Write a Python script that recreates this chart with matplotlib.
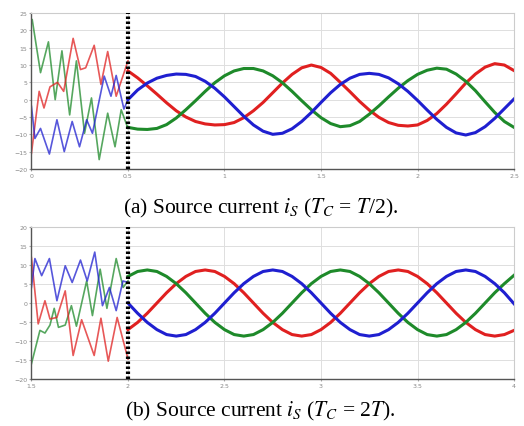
import numpy as np
import matplotlib
matplotlib.use("Agg")
import matplotlib.pyplot as plt

plt.rcParams["mathtext.fontset"] = "stix"

# ---- panel (a): T_C = T/2 ----
# transient part (before compensation switches on), read peak by peak
a_red_t = [0.0, 0.040, 0.065, 0.096, 0.135, 0.167, 0.216, 0.254, 0.281, 0.325, 0.360, 0.395, 0.439, 0.5]
a_red_v = [-15.5, 2.4, -2.4, 3.7, 5.0, 2.4, 17.7, 8.7, 9.2, 15.7, 4.4, 13.9, 1.0, 11.2]
a_grn_t = [0.004, 0.047, 0.088, 0.123, 0.158, 0.198, 0.233, 0.275, 0.311, 0.351, 0.395, 0.433, 0.465, 0.5]
a_grn_v = [23.1, 7.8, 16.7, 0.0, 14.1, -4.4, 11.2, -9.7, 0.5, -17.3, -3.9, -13.6, -2.9, -8.3]
a_blu_t = [0.0, 0.018, 0.047, 0.093, 0.132, 0.170, 0.211, 0.249, 0.286, 0.316, 0.377, 0.412, 0.439, 0.479, 0.5]
a_blu_v = [-1.9, -11.2, -8.3, -15.7, -5.8, -15.0, -6.3, -13.6, -5.8, -9.7, 6.8, 1.0, 7.0, -2.7, 0.0]

# steady part, sampled every 0.05 from 0.5 to 2.5
a_ss_t = [0.50, 0.55, 0.60, 0.65, 0.70, 0.75, 0.80, 0.85, 0.90, 0.95,
          1.00, 1.05, 1.10, 1.15, 1.20, 1.25, 1.30, 1.35, 1.40, 1.45,
          1.50, 1.55, 1.60, 1.65, 1.70, 1.75, 1.80, 1.85, 1.90, 1.95,
          2.00, 2.05, 2.10, 2.15, 2.20, 2.25, 2.30, 2.35, 2.40, 2.45, 2.50]
a_ss_red = [8.3, 6.3, 4.0, 1.6, -0.9, -3.2, -5.0, -6.3, -7.0, -7.3,
            -7.2, -6.6, -5.2, -3.2, -0.8, 2.0, 4.8, 7.3, 9.2, 10.0,
            9.3, 7.6, 5.0, 2.3, -0.5, -3.0, -5.1, -6.6, -7.4, -7.6,
            -7.3, -6.0, -4.0, -1.3, 1.7, 4.8, 7.4, 9.4, 10.4, 10.0, 8.4]
a_ss_grn = [-8.0, -8.5, -8.6, -8.3, -7.2, -5.3, -2.9, -0.3, 2.4, 4.9,
            6.9, 8.3, 9.0, 9.0, 8.3, 6.9, 4.9, 2.4, -0.3, -2.9,
            -5.2, -6.9, -7.8, -7.5, -6.3, -4.2, -1.8, 0.8, 3.3, 5.5,
            7.3, 8.5, 9.1, 8.8, 7.4, 5.3, 2.6, -0.6, -3.7, -6.3, -8.0]
a_ss_blu = [0.0, 2.8, 4.8, 6.2, 7.0, 7.4, 7.3, 6.7, 5.3, 3.3,
            0.8, -2.0, -4.8, -7.3, -9.1, -10.0, -9.7, -8.4, -6.3, -3.7,
            -0.8, 2.0, 4.4, 6.2, 7.3, 7.6, 7.3, 6.3, 4.6, 2.4,
            -0.2, -3.0, -5.7, -8.0, -9.6, -10.2, -9.5, -7.8, -5.4, -2.6, 0.2]

# ---- panel (b): T_C = 2T ----
b_red_t = [1.5, 1.535, 1.570, 1.596, 1.632, 1.675, 1.716, 1.760, 1.825, 1.860, 1.898, 1.944, 2.0]
b_red_v = [12.0, -5.5, 0.6, -4.2, -3.8, 3.2, -13.8, -4.4, -13.8, -4.0, -15.3, -3.8, -14.7]
b_grn_t = [1.5, 1.544, 1.570, 1.596, 1.618, 1.640, 1.675, 1.707, 1.733, 1.786, 1.816, 1.856, 1.891, 1.939, 1.975, 2.0]
b_grn_v = [-16.0, -7.2, -7.9, -5.8, -1.4, -6.4, -5.8, -0.7, -6.1, 5.8, -3.3, 8.9, -1.4, 11.7, 4.1, 5.8]
b_blu_t = [1.5, 1.518, 1.553, 1.593, 1.632, 1.675, 1.711, 1.754, 1.789, 1.828, 1.868, 1.904, 1.939, 1.974, 2.0]
b_blu_v = [4.1, 11.7, 7.2, 11.7, 0.6, 9.8, 5.4, 11.3, 5.8, 13.4, -0.7, 4.1, -2.0, 5.8, 5.4]

b_ss_t = [2.00, 2.05, 2.10, 2.15, 2.20, 2.25, 2.30, 2.35, 2.40, 2.45,
          2.50, 2.55, 2.60, 2.65, 2.70, 2.75, 2.80, 2.85, 2.90, 2.95,
          3.00, 3.05, 3.10, 3.15, 3.20, 3.25, 3.30, 3.35, 3.40, 3.45,
          3.50, 3.55, 3.60, 3.65, 3.70, 3.75, 3.80, 3.85, 3.90, 3.95, 4.00]
b_ss_red = [-7.0, -5.1, -2.7, 0.0, 2.7, 5.1, 7.0, 8.3, 8.7, 8.3,
            7.0, 5.1, 2.7, 0.0, -2.7, -5.1, -7.0, -8.3, -8.7, -8.3,
            -7.0, -5.1, -2.7, 0.0, 2.7, 5.1, 7.0, 8.3, 8.7, 8.3,
            7.0, 5.1, 2.7, 0.0, -2.7, -5.1, -7.0, -8.3, -8.7, -8.3, -7.2]
b_ss_grn = [7.0, 8.3, 8.7, 8.3, 7.0, 5.1, 2.7, 0.0, -2.7, -5.1,
            -7.0, -8.3, -8.7, -8.3, -7.0, -5.1, -2.7, 0.0, 2.7, 5.1,
            7.0, 8.3, 8.7, 8.3, 7.0, 5.1, 2.7, 0.0, -2.7, -5.1,
            -7.0, -8.3, -8.7, -8.3, -7.0, -5.1, -2.7, 0.0, 2.7, 5.1, 7.3]
b_ss_blu = [0.0, -2.7, -5.1, -7.0, -8.3, -8.7, -8.3, -7.0, -5.1, -2.7,
            0.0, 2.7, 5.1, 7.0, 8.3, 8.7, 8.3, 7.0, 5.1, 2.7,
            0.0, -2.7, -5.1, -7.0, -8.3, -8.7, -8.3, -7.0, -5.1, -2.7,
            0.0, 2.7, 5.1, 7.0, 8.3, 8.7, 8.3, 7.0, 5.1, 2.7, -0.2]

a_xticks = [0, 0.5, 1, 1.5, 2, 2.5]
a_yticks = [-20, -15, -10, -5, 0, 5, 10, 15, 20, 25]
b_xticks = [1.5, 2, 2.5, 3, 3.5, 4]
b_yticks = [-20, -15, -10, -5, 0, 5, 10, 15, 20]

RED, GRN, BLU = "#e02020", "#1e8a2a", "#1f1fd0"

fig = plt.figure(figsize=(5.24, 4.27), dpi=100)


def panel(rect, tr, ss, switch, xticks, yticks, caption, cap_y):
    ax = fig.add_axes(rect)
    (rt, rv), (gt, gv), (bt, bv) = tr
    st, sr, sg, sb = ss
    # transient: thin lighter lines
    for t, v, c in [(gt, gv, GRN), (rt, rv, RED), (bt, bv, BLU)]:
        ax.plot(t, v, color=c, lw=1.2, alpha=0.75, solid_joinstyle="round")
    # steady state: thick lines
    for v, c in [(sr, RED), (sg, GRN), (sb, BLU)]:
        ax.plot(st, v, color=c, lw=2.2)
    ax.axvline(switch, color="black", lw=3, ls=(0, (0.6, 0.6)), zorder=5)
    ax.set_xlim(xticks[0], xticks[-1])
    ax.set_ylim(yticks[0], yticks[-1])
    ax.set_xticks(xticks)
    ax.set_yticks(yticks)
    ax.set_xticklabels([f"{x:g}" for x in xticks])
    ax.grid(True, color="#dedede", lw=0.7)
    ax.set_axisbelow(True)
    ax.tick_params(labelsize=4.5, labelcolor="#888888", length=1.5, color="#aaaaaa", pad=1.5)
    for s in ["top", "right"]:
        ax.spines[s].set_color("#cccccc")
    for s in ["left", "bottom"]:
        ax.spines[s].set_color("#555555")
        ax.spines[s].set_linewidth(1.0)
    fig.text(0.497, cap_y, caption, ha="center", va="center",
             fontsize=15.5, family="Liberation Serif")
    return ax


panel([0.060, 0.602, 0.921, 0.365],
      [(a_red_t, a_red_v), (a_grn_t, a_grn_v), (a_blu_t, a_blu_v)],
      (a_ss_t, a_ss_red, a_ss_grn, a_ss_blu), 0.5, a_xticks, a_yticks,
      r"(a) Source current $i_S$ ($T_C$ = $T$/2).", 1 - 208 / 427)
panel([0.060, 0.110, 0.921, 0.356],
      [(b_red_t, b_red_v), (b_grn_t, b_grn_v), (b_blu_t, b_blu_v)],
      (b_ss_t, b_ss_red, b_ss_grn, b_ss_blu), 2.0, b_xticks, b_yticks,
      r"(b) Source current $i_S$ ($T_C$ = 2$T$).", 1 - 411 / 427)

fig.savefig("out.png", dpi=100)
